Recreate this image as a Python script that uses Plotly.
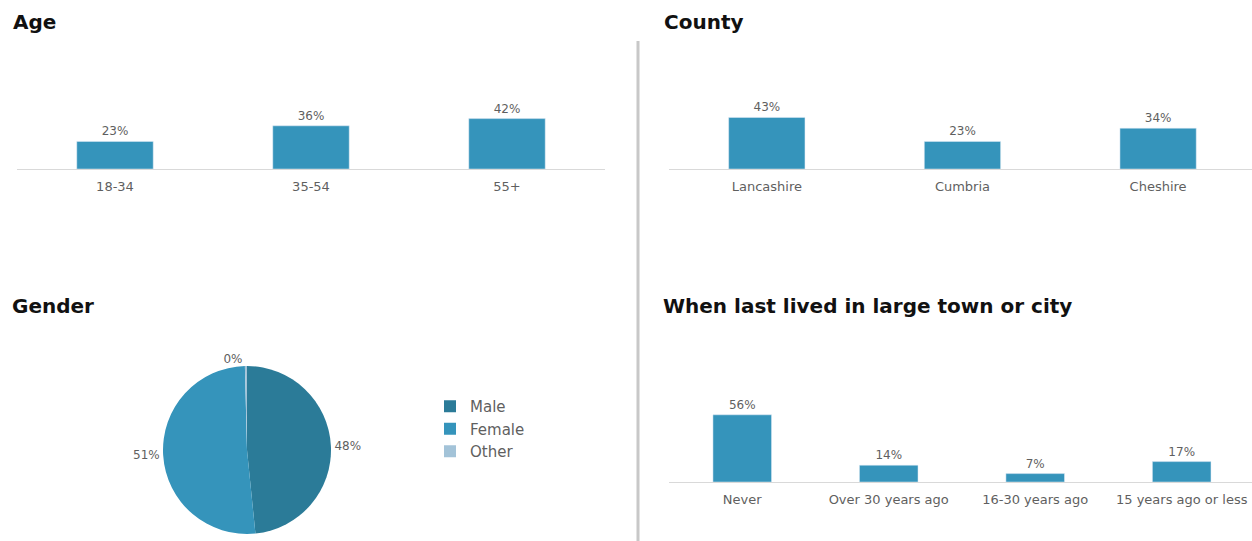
import plotly.graph_objects as go

W, H = 1252, 541

age_cats = ["18-34", "35-54", "55+"]
age_vals = [23, 36, 42]

county_cats = ["Lancashire", "Cumbria", "Cheshire"]
county_vals = [43, 23, 34]

gender_labels = ["Male", "Female", "Other"]
gender_vals = [48.4, 51.2, 0.4]
gender_colors = ["#2b7b98", "#3594bb", "#a3c3d8"]

city_cats = ["Never", "Over 30 years ago", "16-30 years ago", "15 years ago or less"]
city_vals = [56, 14, 7, 17]

BAR = "#3594bb"
TXT = "#5f5f5f"
FONT = "'DejaVu Sans', sans-serif"


def px_x(x):
    return x / W


def px_y(y):
    return 1 - y / H


fig = go.Figure()

fig.add_trace(go.Bar(x=age_cats, y=age_vals, marker_color=BAR, width=0.39,
                     text=[f"{v}%" for v in age_vals], textposition="outside",
                     textfont=dict(size=12, color=TXT), cliponaxis=False,
                     xaxis="x", yaxis="y", showlegend=False, hoverinfo="x+y"))
fig.add_trace(go.Bar(x=county_cats, y=county_vals, marker_color=BAR, width=0.39,
                     text=[f"{v}%" for v in county_vals], textposition="outside",
                     textfont=dict(size=12, color=TXT), cliponaxis=False,
                     xaxis="x2", yaxis="y2", showlegend=False, hoverinfo="x+y"))
fig.add_trace(go.Bar(x=city_cats, y=city_vals, marker_color=BAR, width=0.4,
                     text=[f"{v}%" for v in city_vals], textposition="outside",
                     textfont=dict(size=12, color=TXT), cliponaxis=False,
                     xaxis="x3", yaxis="y3", showlegend=False, hoverinfo="x+y"))

cx, cy, r = 247, 450, 84
fig.add_trace(go.Pie(labels=gender_labels, values=gender_vals, sort=False,
                     direction="clockwise", rotation=0,
                     marker=dict(colors=gender_colors),
                     texttemplate="%{percent:.0%}", textposition="outside",
                     textfont=dict(size=12, color=TXT),
                     domain=dict(x=[px_x(cx - r), px_x(cx + r)],
                                 y=[px_y(cy + r), px_y(cy - r)]),
                     showlegend=True))

xcommon = dict(type="category", showgrid=False, zeroline=False, showline=True,
               linecolor="#d9d9d9", linewidth=1, ticks="outside", ticklen=5,
               tickcolor="rgba(0,0,0,0)", tickfont=dict(size=13, color=TXT),
               fixedrange=True)
ycommon = dict(range=[0, 100], visible=False, fixedrange=True)

fig.update_layout(
    width=W, height=H,
    margin=dict(l=0, r=0, t=0, b=0),
    paper_bgcolor="white", plot_bgcolor="white",
    font=dict(family=FONT, color=TXT),
    bargap=0.6,
    xaxis=dict(domain=[px_x(17), px_x(605)], range=[-0.5, 2.5], anchor="y", **xcommon),
    yaxis=dict(domain=[px_y(169), px_y(49)], anchor="x", **ycommon),
    xaxis2=dict(domain=[px_x(669), px_x(1252)], range=[-0.5, 2.48], anchor="y2", **xcommon),
    yaxis2=dict(domain=[px_y(169), px_y(49)], anchor="x2", **ycommon),
    xaxis3=dict(domain=[px_x(669), px_x(1252)], range=[-0.5, 3.48], anchor="y3", **xcommon),
    yaxis3=dict(domain=[px_y(482), px_y(362)], anchor="x3", **ycommon),
    legend=dict(x=px_x(430), y=px_y(390), xanchor="left", yanchor="top",
                font=dict(size=15, color=TXT), tracegroupgap=0,
                itemwidth=30, bgcolor="rgba(0,0,0,0)"),
    showlegend=True,
)

titles = [("Age", 11, 22), ("County", 662, 22), ("Gender", 10, 306),
          ("When last lived in large town or city", 661, 306)]
for t, x, y in titles:
    fig.add_annotation(text=f"<b>{t}</b>", x=px_x(x), y=px_y(y), xref="paper", yref="paper",
                       xanchor="left", yanchor="middle", showarrow=False,
                       font=dict(size=20, color="#111111", family=FONT))

fig.add_shape(type="line", xref="paper", yref="paper",
              x0=px_x(638), x1=px_x(638), y0=px_y(41), y1=0,
              line=dict(color="#c8c8c8", width=3))

fig.write_html("out.html", config={"displayModeBar": False},
               post_script="document.body.style.margin='0';")
